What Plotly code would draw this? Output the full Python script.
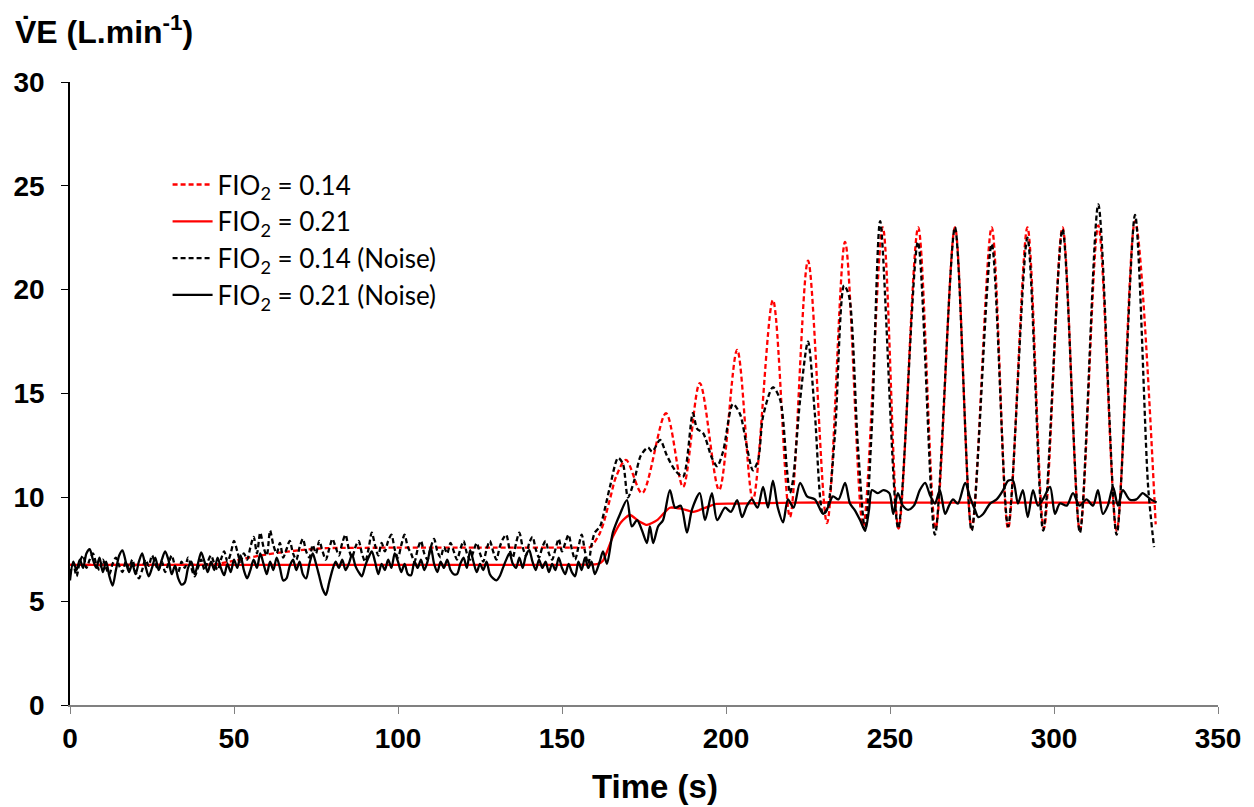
import plotly.graph_objects as go

# ---- data (time in s, VE in L/min) ----
# FIO2 = 0.14 (model, dashed red) - plateau, then peaks / troughs
red_dash_t = [0, 20, 40, 44, 50, 60, 70, 78, 90, 110, 130, 150, 156, 158.5, 161.6, 164.6, 166.5,
              169.5, 174.4, 181.7, 186.9, 192, 197.9, 203.4, 208.2, 214.3, 219.5, 225, 230.8,
              236.3, 241.8, 247.8, 252.6, 258.6, 263.9, 269.8, 274.9, 281, 286, 291.9, 296.9,
              302.6, 307.9, 313.5, 319.1, 324.7, 331]
red_dash_v = [6.75, 6.75, 6.75, 6.77, 6.95, 7.25, 7.45, 7.55, 7.57, 7.58, 7.58, 7.58, 7.58, 7.6,
              8.3, 9.9, 11.0, 11.8, 10.2, 14.05, 10.5, 15.5, 10.35, 17.1, 9.87, 19.5, 9.05, 21.4,
              8.76, 22.3, 8.6, 23.0, 8.5, 23.0, 8.5, 23.0, 8.5, 23.0, 8.5, 23.0, 8.5,
              23.0, 8.4, 23.1, 8.4, 23.3, 8.7]

# FIO2 = 0.21 (model, solid red)
red_solid_t = [0, 30, 60, 90, 120, 150, 158, 161, 162.5, 165.5, 168, 170.7, 173.5, 175.9, 179.0,
               182.9, 186.5, 190, 197, 203, 210.4, 222.6, 240, 260, 280, 300, 320, 331]
red_solid_v = [6.75, 6.75, 6.75, 6.75, 6.75, 6.75, 6.76, 6.8, 6.95, 8.1, 8.8, 9.15, 8.85, 8.67,
               8.9, 9.5, 9.45, 9.3, 9.68, 9.7, 9.72, 9.75, 9.75, 9.75, 9.75, 9.75, 9.75, 9.75]

# FIO2 = 0.14 (noise, dashed black): 1 s samples 0-160 s, then key points
noise14_base = [6.3, 6.8, 6.2, 6.9, 7.2, 6.6, 7.0, 7.3, 6.8, 6.5, 7.0, 6.6, 6.3, 6.8, 7.1, 6.7,
                6.4, 6.9, 6.6, 7.0, 6.4, 6.1, 6.5, 7.0, 6.7, 7.2, 6.8, 6.5, 6.9, 6.4, 6.8, 7.2,
                6.7, 6.4, 6.9, 6.6, 7.1, 6.6, 6.2, 6.6, 7.0, 6.5, 6.9, 7.2, 6.8, 6.5, 7.0, 7.4,
                6.9, 7.3, 7.9, 7.4, 6.9, 7.3, 7.0, 7.6, 8.1, 7.3, 8.3, 7.6, 7.2, 8.4, 7.7, 7.3,
                7.8, 7.1, 7.5, 7.9, 7.3, 7.0, 7.6, 8.0, 7.4, 7.1, 7.7, 7.3, 7.9, 7.4, 7.0, 7.5,
                8.0, 7.6, 7.2, 7.8, 8.2, 7.5, 7.1, 7.6, 7.9, 7.3, 6.9, 7.5, 8.3, 7.7, 7.2, 7.8,
                7.4, 7.9, 8.2, 7.5, 7.1, 7.7, 8.2, 7.6, 7.3, 6.9, 7.5, 7.9, 7.3, 7.0, 7.6, 8.0,
                7.4, 7.1, 7.6, 7.3, 7.8, 7.4, 7.0, 7.5, 7.9, 7.3, 7.0, 7.4, 7.8, 7.3, 6.9, 7.5,
                7.9, 7.4, 7.0, 7.6, 8.0, 8.2, 7.5, 7.1, 7.8, 8.3, 7.6, 7.2, 7.8, 8.1, 7.5, 7.1,
                7.6, 7.9, 7.3, 7.0, 7.5, 8.0, 7.4, 7.8, 8.2, 7.5, 7.0, 7.6, 8.2, 7.4, 6.8, 7.7,
                8.3]
noise14_tail_t = [161.6, 163, 164.6, 167.1, 168.6, 170.1, 172, 174, 176.2, 177.5, 179.9, 182,
                  184.5, 186.9, 189.9, 191.2, 193, 195.7, 197.3, 199.1, 202.1, 204.3, 206.4,
                  208.2, 209.8, 211.3, 214.3, 216.5, 218.6, 219.5, 220.4, 222.6, 225, 227.1,
                  229.6, 230.8, 233.2, 236, 237.5, 240.2, 242.4, 244.5, 247, 252.5, 258.5,
                  263.7, 269.8, 274.9, 281, 286, 291.9, 296.7, 302.6, 307.9, 313.5, 319.1,
                  324.7, 328.7, 330.5]
noise14_tail_v = [8.6, 9.4, 10.5, 11.9, 11.6, 10.0, 10.8, 12.0, 12.4, 12.2, 12.76, 12.0,
                  11.3, 11.0, 14.05, 13.3, 13.1, 11.9, 11.5, 12.2, 14.5, 14.0, 12.4,
                  11.3, 11.8, 13.9, 15.3, 14.7, 11.3, 10.2, 10.8, 14.7, 17.5, 14.0,
                  9.2, 9.4, 13.0, 20.2, 19.7, 12.5, 8.4, 13.5, 23.3, 8.5, 22.3,
                  8.2, 23.0, 8.4, 22.2, 8.6, 22.5, 8.4, 22.9, 8.3, 24.1, 8.2,
                  23.6, 10.5, 7.6]

# FIO2 = 0.21 (noise, solid black)
noise21_base = [6.0, 6.9, 6.5, 7.0, 6.6, 7.3, 7.5, 7.0, 6.6, 7.1, 6.4, 6.9, 6.2, 5.75, 6.5, 7.2,
                7.45, 6.9, 6.4, 6.8, 6.3, 6.9, 7.3, 6.7, 6.2, 6.6, 7.1, 6.5, 7.0, 7.4, 7.0, 6.3,
                6.7, 6.1, 5.8, 5.9, 6.6, 6.9, 6.3, 6.8, 7.35, 6.9, 6.4, 6.9, 6.5, 7.1, 6.6, 6.25,
                6.8, 6.4, 7.0, 6.6, 7.2, 6.5, 6.1, 6.5, 7.0, 6.6, 7.3, 6.8, 6.3, 6.9, 6.5, 7.1,
                6.6, 6.0, 6.1, 6.7, 7.0, 6.5, 6.9, 6.3, 6.1, 6.8, 7.3, 6.8, 6.2, 5.6, 5.3, 5.9,
                6.5, 6.9, 6.6, 7.0, 6.5, 6.8, 7.25, 6.7, 6.4, 6.2, 6.7, 7.1, 7.4, 6.9, 6.3, 6.8,
                6.5, 7.0, 6.6, 7.3, 6.9, 6.4, 6.8, 6.3, 6.25, 6.9, 6.6, 7.0, 6.5, 6.9, 7.6, 6.8,
                6.4, 6.9, 6.6, 7.0, 6.5, 6.3, 6.3, 6.8, 7.1, 6.6, 7.46, 6.9, 6.4, 6.8, 6.5, 6.9,
                6.3, 6.1, 6.0, 6.2, 6.6, 7.0, 7.3, 6.8, 6.6, 7.1, 6.6, 7.2, 7.46, 6.9, 6.5, 7.0,
                6.6, 6.9, 6.4, 6.8, 6.5, 7.1, 6.6, 6.3, 6.8, 6.4, 6.2, 6.9, 6.5, 7.1, 6.6, 6.9,
                6.3]
noise21_tail_t = [161.5, 162.5, 163.7, 165.5, 167.7, 169.8, 171.3, 172.9, 174.4, 175.9, 176.8,
                  177.8, 179.3, 180.8, 182.9, 184.5, 186.2, 188.1, 189.6, 192, 193.6, 195.7,
                  197.3, 199.7, 201.5, 203.4, 204.9, 206.4, 207.9, 209.6, 211.3, 212.8, 214.3,
                  215.8, 217.4, 218.9, 220.6, 222.6, 224.7, 227.1, 229.6, 231, 232.6, 234.3,
                  236.3, 237.8, 239.2, 240.9, 242.4, 243.6, 244.5, 246.3, 248, 249.8, 251,
                  252.4, 253.9, 255.5, 257.3, 259.1, 260.7, 262.2, 263.7, 265.2, 266.8, 268,
                  269.2, 270.7, 272.9, 274.4, 275.9, 276.9, 278.4, 280.5, 282.5, 284.5, 286,
                  287.5, 289, 290.5, 292, 293.6, 295.1, 296.6, 298.8, 300.3, 301.8, 303.9,
                  305.8, 307.8, 309.9, 311.9, 313.4, 314.9, 316.4, 318, 319.5, 321, 323,
                  325.1, 327, 328, 329.5, 331.3]
noise21_tail_v = [6.9, 7.4, 6.8, 8.3, 9.2, 9.87, 8.6, 8.9, 8.4, 7.8, 8.6,
                  7.8, 8.6, 8.9, 10.35, 9.5, 9.6, 8.3, 9.4, 10.2, 8.9, 10.2,
                  8.9, 9.5, 9.3, 9.87, 9.05, 9.6, 9.9, 9.5, 10.5, 9.5, 10.8,
                  9.5, 8.8, 9.9, 9.5, 10.7, 10.05, 9.9, 9.2, 9.5, 10.05, 9.9,
                  10.7, 9.7, 9.4, 8.9, 8.4, 9.4, 10.35, 10.2, 10.35, 10.2, 9.2,
                  10.2, 9.6, 9.4, 9.6, 10.35, 10.7, 10.1, 9.7, 10.35, 9.2, 9.6,
                  9.9, 9.7, 10.7, 10.0, 9.4, 9.05, 9.2, 9.7, 9.9, 10.35, 10.8,
                  10.8, 9.7, 10.35, 9.05, 10.35, 9.6, 9.9, 10.5, 9.2, 9.7, 9.6,
                  10.2, 9.6, 9.9, 9.6, 10.35, 9.2, 9.6, 10.5, 9.6, 10.35, 9.9,
                  9.9, 10.2, 10.1, 9.9, 9.75]

base_t = list(range(len(noise14_base)))

legend_names = ['FIO<sub>2</sub> = 0.14', 'FIO<sub>2</sub> = 0.21',
                'FIO<sub>2</sub> = 0.14 (Noise)', 'FIO<sub>2</sub> = 0.21 (Noise)']

fig = go.Figure()

fig.add_trace(go.Scatter(x=red_dash_t, y=red_dash_v, mode='lines', name=legend_names[0],
                         line=dict(color='#ff0000', width=2.3, dash='5px,3px', shape='spline', smoothing=0.9),
                         legendgroup='a'))
fig.add_trace(go.Scatter(x=red_solid_t, y=red_solid_v, mode='lines', name=legend_names[1],
                         line=dict(color='#ff0000', width=2.3, shape='spline', smoothing=0.6),
                         legendgroup='b'))
fig.add_trace(go.Scatter(x=base_t + noise14_tail_t, y=noise14_base + noise14_tail_v, mode='lines',
                         name=legend_names[2],
                         line=dict(color='black', width=2.3, dash='5px,3px', shape='spline', smoothing=0.8),
                         legendgroup='c'))
fig.add_trace(go.Scatter(x=base_t + noise21_tail_t, y=noise21_base + noise21_tail_v, mode='lines',
                         name=legend_names[3],
                         line=dict(color='black', width=2.3, shape='spline', smoothing=0.8),
                         legendgroup='d'))

tick_font = dict(family='Liberation Sans, Arial', size=28, color='black', weight='bold')

# page body has an 8px margin, so the figure is a bit smaller than the window
fig.update_layout(
    width=1246, height=799,
    margin=dict(l=62, r=36, t=74, b=102, autoexpand=False),
    paper_bgcolor='white', plot_bgcolor='white',
    showlegend=True,
    legend=dict(x=0.085, y=0.873, xanchor='left', yanchor='top',
                font=dict(family='Lato, Carlito, Open Sans', size=26, color='black'),
                bgcolor='rgba(0,0,0,0)', traceorder='grouped', tracegroupgap=0,
                itemwidth=40),
    xaxis=dict(range=[0, 350], dtick=50, tick0=0, showgrid=False, zeroline=False,
               showline=True, linecolor='#808080', linewidth=2, automargin=False,
               ticks='outside', ticklen=7, tickcolor='#808080', tickwidth=1,
               tickfont=tick_font, ticklabelstandoff=0),
    yaxis=dict(range=[0, 30], dtick=5, tick0=0, showgrid=False, zeroline=False,
               showline=True, linecolor='black', linewidth=1.5, automargin=False,
               ticks='outside', ticklen=7, tickcolor='black', tickwidth=1,
               tickfont=tick_font, ticklabelstandoff=11),
    annotations=[
        dict(text='<b>V\u0307E (L.min<sup>-1</sup>)</b>', xref='paper', yref='paper',
             x=-0.05, y=1.118, xanchor='left', yanchor='top', showarrow=False,
             font=dict(family='Liberation Sans, Arial', size=32, color='black')),
        dict(text='<b>Time (s)</b>', xref='paper', yref='paper',
             x=0.51, y=-0.131, xanchor='center', yanchor='middle', showarrow=False,
             font=dict(family='Liberation Sans, Arial', size=33, color='black')),
    ],
)

fig.write_html("out.html")
